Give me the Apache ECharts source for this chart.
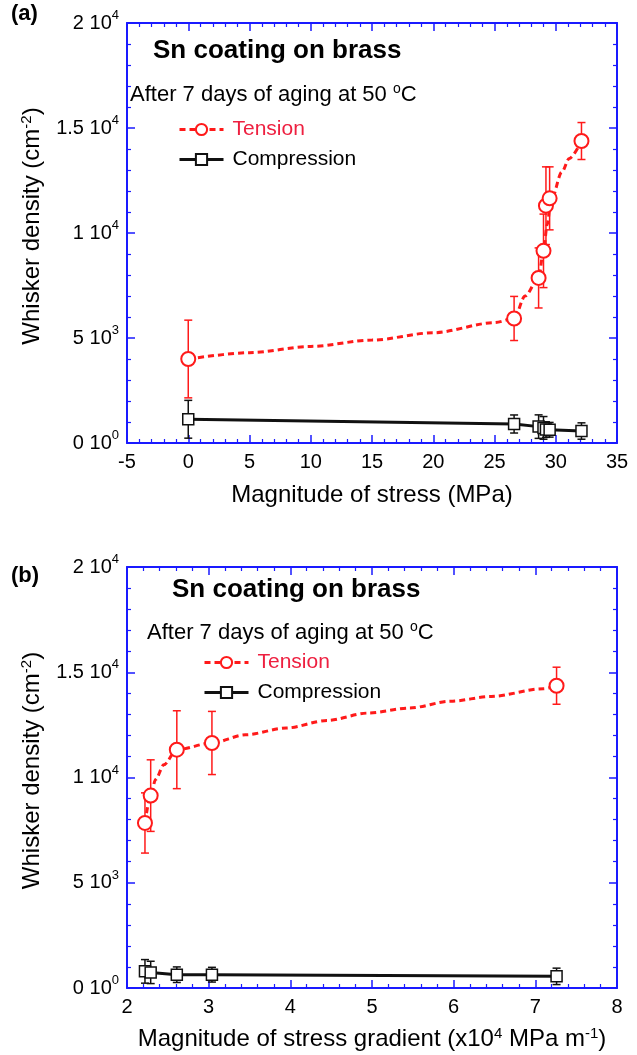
<!DOCTYPE html>
<html><head><meta charset="utf-8">
<script src="https://cdn.jsdelivr.net/npm/echarts@6/dist/echarts.min.js"></script>
<style>html,body{margin:0;padding:0;background:#fff}#c{width:637px;height:1055px}</style>
</head><body><div id="c"></div>
<script>
// ---------- data ----------
const stressA = [0, 26.6, 28.6, 29.0, 29.2, 29.5, 32.1];
const tensionA = [4000, 5930, 7860, 9150, 11300, 11650, 14380];
const tensionErrA = [1850, 1050, 1430, 1750, 1850, 1500, 880];
const compressionA = [1130, 905, 780, 720, 640, 630, 570];
const compressionErrA = [900, 430, 560, 540, 370, 350, 390];

const gradientB = [2.22, 2.29, 2.61, 3.04, 7.26];
const tensionB = [7840, 9140, 11320, 11640, 14360];
const tensionErrB = [1430, 1700, 1850, 1500, 880];
const compressionB = [790, 740, 632, 632, 553];
const compressionErrB = [560, 530, 370, 350, 390];

// dashed trend curves
const fitAx = [0, 5, 10, 15, 20, 25, 26.6, 27.5, 28.6, 29.0, 29.3, 29.6, 30.5, 31.1, 32.1];
const fitAy = [4000, 4300, 4600, 4900, 5250, 5730, 5930, 7000, 7860, 9150, 10400, 11500, 12900, 13550, 14380];
const fitBx = [2.22, 2.29, 2.35, 2.45, 2.61, 3.04, 3.45, 3.95, 4.45, 4.95, 5.46, 5.96, 6.46, 7.1, 7.26];
const fitBy = [7840, 9140, 9900, 10600, 11320, 11640, 12030, 12350, 12710, 13060, 13300, 13620, 13850, 14220, 14360];

const yTickMant = ['0', '5', '1', '1.5', '2'];
const yTickExp = ['0', '3', '4', '4', '4'];
const xTicksA = ['-5', '0', '5', '10', '15', '20', '25', '30', '35'];
const xTicksB = ['2', '3', '4', '5', '6', '7', '8'];

// ---------- style ----------
const FONT = 'Liberation Sans, Arial, sans-serif';
const BLUE = '#1a1aff';
const RED = '#ff1a1a';
const BLACK = '#111111';

const zip = (xs, ys) => xs.map((x, i) => [x, ys[i]]);
const zip3 = (xs, ys, es) => xs.map((x, i) => [x, ys[i], es[i]]);

function errRender(color) {
  return function (params, api) {
    const x = api.value(0), y = api.value(1), e = api.value(2);
    const hi = api.coord([x, y + e]), lo = api.coord([x, y - e]);
    const w = 4;
    const st = { stroke: color, lineWidth: 1.5 };
    return { type: 'group', children: [
      { type: 'line', shape: { x1: hi[0], y1: hi[1], x2: lo[0], y2: lo[1] }, style: st },
      { type: 'line', shape: { x1: hi[0] - w, y1: hi[1], x2: hi[0] + w, y2: hi[1] }, style: st },
      { type: 'line', shape: { x1: lo[0] - w, y1: lo[1], x2: lo[0] + w, y2: lo[1] }, style: st }
    ]};
  };
}

const supRich = {
  m: { fontSize: 20, lineHeight: 28, fontFamily: FONT, color: '#000' },
  s: { fontSize: 13, lineHeight: 13, verticalAlign: 'top', fontFamily: FONT, color: '#000' }
};
const nameSup = { s: { fontSize: 15, lineHeight: 15, verticalAlign: 'top', fontFamily: FONT, color: '#000' } };

function xAxisPair(gridIndex, min, max, interval, labels, name, gap) {
  const common = {
    type: 'value', gridIndex, min, max, interval,
    axisLine: { show: true, onZero: false, lineStyle: { color: BLUE, width: 2 } },
    axisTick: { show: true, inside: true, length: 8, lineStyle: { color: BLUE, width: 1.5 } },
    minorTick: { show: true, splitNumber: 5, length: 4, lineStyle: { color: BLUE, width: 1.2 } },
    splitLine: { show: false }
  };
  return [
    Object.assign({}, common, {
      position: 'bottom',
      axisLabel: { margin: 9, fontSize: 20, fontFamily: FONT, color: '#000',
        formatter: (v, i) => labels[i] },
      name, nameLocation: 'middle', nameGap: gap,
      nameTextStyle: { fontSize: 24, lineHeight: 26, fontFamily: FONT, color: '#000', rich: nameSup }
    }),
    Object.assign({}, common, { position: 'top', axisLabel: { show: false } })
  ];
}

function yAxisPair(gridIndex) {
  const common = {
    type: 'value', gridIndex, min: 0, max: 20000, interval: 5000,
    axisLine: { show: true, onZero: false, lineStyle: { color: BLUE, width: 2 } },
    axisTick: { show: true, inside: true, length: 8, lineStyle: { color: BLUE, width: 1.5 } },
    minorTick: { show: true, splitNumber: 5, length: 4, lineStyle: { color: BLUE, width: 1.2 } },
    splitLine: { show: false }
  };
  return [
    Object.assign({}, common, {
      position: 'left',
      axisLabel: { margin: 8, rich: supRich,
        formatter: (v, i) => '{m|' + yTickMant[i] + ' 10}{s|' + yTickExp[i] + '}' },
      name: 'Whisker density (cm{s|-2})', nameLocation: 'middle', nameGap: 82,
      nameTextStyle: { fontSize: 24, lineHeight: 26, fontFamily: FONT, color: '#000',
        padding: [0, 0, 0, 14], rich: nameSup }
    }),
    Object.assign({}, common, { position: 'right', axisLabel: { show: false } })
  ];
}

const xa = xAxisPair(0, -5, 35, 5, xTicksA, 'Magnitude of stress (MPa)', 39);
const xb = xAxisPair(1, 2, 8, 1, xTicksB, 'Magnitude of stress gradient (x10{s|4} MPa m{s|-1})', 38);
const ya = yAxisPair(0);
const yb = yAxisPair(1);

function panelSeries(xi, yi, xs, tens, tensErr, comp, compErr, fx, fy) {
  return [
    { name: 'Tension', type: 'line', xAxisIndex: xi, yAxisIndex: yi, data: zip(fx, fy),
      smooth: 0.3, smoothMonotone: 'x', showSymbol: false, symbol: 'circle', symbolSize: 13,
      lineStyle: { color: RED, width: 3, type: [6, 4] },
      itemStyle: { color: '#fff', borderColor: RED, borderWidth: 2 }, z: 3, silent: true },
    { name: 'Compression', type: 'line', xAxisIndex: xi, yAxisIndex: yi, data: zip(xs, comp),
      symbol: 'rect', symbolSize: 11, showAllSymbol: true,
      lineStyle: { color: BLACK, width: 3 },
      itemStyle: { color: '#fff', borderColor: BLACK, borderWidth: 1.5 }, z: 4 },
    { name: 'Tension error', type: 'custom', xAxisIndex: xi, yAxisIndex: yi,
      data: zip3(xs, tens, tensErr), renderItem: errRender(RED), encode: { x: 0, y: 1 }, z: 2 },
    { name: 'Compression error', type: 'custom', xAxisIndex: xi, yAxisIndex: yi,
      data: zip3(xs, comp, compErr), renderItem: errRender(BLACK), encode: { x: 0, y: 1 }, z: 2 },
    { name: 'Tension data', type: 'scatter', xAxisIndex: xi, yAxisIndex: yi, data: zip(xs, tens),
      symbol: 'circle', symbolSize: 14,
      itemStyle: { color: '#fff', borderColor: RED, borderWidth: 2, opacity: 1 }, z: 5 }
  ];
}

const series = [].concat(
  panelSeries(0, 0, stressA, tensionA, tensionErrA, compressionA, compressionErrA, fitAx, fitAy),
  panelSeries(2, 2, gradientB, tensionB, tensionErrB, compressionB, compressionErrB, fitBx, fitBy)
);

const degRich = { s: { fontSize: 14, lineHeight: 14, verticalAlign: 'top', fontFamily: FONT, fontWeight: 'normal', color: '#000' } };

function legendAt(left, top) {
  return {
    orient: 'vertical', left, top, padding: 0, itemGap: 9, itemWidth: 44, itemHeight: 14,
    selectedMode: false,
    lineStyle: { width: 3 },
    textStyle: { fontSize: 21, lineHeight: 21, fontFamily: FONT, color: '#000', padding: [0, 0, 0, 4] },
    data: [
      { name: 'Tension', textStyle: { color: '#ee2040' } },
      { name: 'Compression' }
    ]
  };
}

const sub = { fontSize: 22, lineHeight: 26, fontWeight: 'normal', fontFamily: FONT, color: '#000', rich: degRich };
const head = { fontSize: 26, fontWeight: 'bold', fontFamily: FONT, color: '#000' };
const lab = { fontSize: 22, fontWeight: 'bold', fontFamily: FONT, color: '#000' };

const option = {
  backgroundColor: '#fff',
  animation: false,
  grid: [
    { left: 127, right: 20, top: 23, height: 420 },
    { left: 127, right: 20, top: 567, height: 421 }
  ],
  xAxis: [xa[0], xa[1], xb[0], xb[1]],
  yAxis: [ya[0], ya[1], yb[0], yb[1]],
  title: [
    { text: '(a)', left: 11, top: 3, padding: 0, textStyle: lab },
    { text: 'Sn coating on brass', left: 153, top: 38, padding: 0, textStyle: head },
    { text: 'After 7 days of aging at 50 {s|o}C', left: 130, top: 82, padding: 0, textStyle: sub },
    { text: '(b)', left: 11, top: 565, padding: 0, textStyle: lab },
    { text: 'Sn coating on brass', left: 172, top: 577, padding: 0, textStyle: head },
    { text: 'After 7 days of aging at 50 {s|o}C', left: 147, top: 620, padding: 0, textStyle: sub }
  ],
  legend: [legendAt(178, 119), legendAt(203, 652)],
  series
};

const chart = echarts.init(document.getElementById('c'), null, { renderer: 'canvas' });
chart.setOption(option);
</script>
</body></html>
